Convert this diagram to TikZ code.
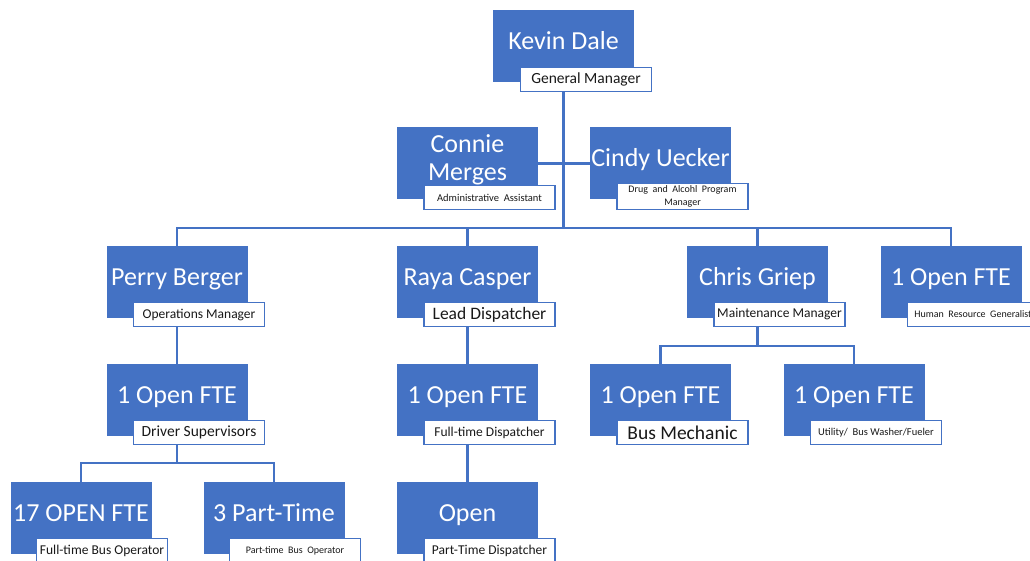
\documentclass[tikz,border=0pt]{standalone}
\usepackage{fontspec}
\setmainfont{Carlito}
\usepackage{tikz}
\definecolor{orgblue}{HTML}{4472C4}
\newcommand{\tsize}[1]{\fontsize{#1}{#1}\selectfont}

\begin{document}
\begin{tikzpicture}
                \tikzset{x=1pt, y=-1pt}
                \tikzstyle{person}=[rectangle, fill=orgblue, text=white, minimum width=141pt, minimum height=72pt, inner sep=0pt, font=\tsize{26}]
                \tikzstyle{one}=[person, text height=18pt, text depth=11pt]
                \tikzstyle{role}=[rectangle, draw=orgblue, line width=1.4pt, fill=white, text=black!90, minimum width=131pt, minimum height=24pt, inner xsep=2pt, inner ysep=1pt]
                \tikzstyle{link}=[draw=orgblue, line width=2.2pt]

                \useasboundingbox (0, 0) rectangle (1030, 561);

                \draw (563.5, 46.0)  node[one]    (kd)   {Kevin Dale};
                \draw (586.0, 79.5)  node[role, font=\tsize{15.5}] (kdt) {General Manager};

                \draw (467.5, 163.5) node[person, align=center, font=\fontsize{26}{28}\selectfont] (cm) {Connie\\Merges\rule[-12.5pt]{0pt}{12.5pt}};
                \draw (489.5, 197.5) node[role, font=\tsize{10.5}] (cmt) {Administrative~~Assistant};
                \draw (660.5, 163.5) node[one]    (cu)   {Cindy Uecker};
                \draw (682.5, 196.5) node[role, align=center, inner ysep=2.5pt, font=\fontsize{10}{12.5}\selectfont] (cut) {Drug~~and~~Alcohl~~Program\\Manager};

                \draw (177.0, 282.0) node[one]    (pb)   {Perry Berger};
                \draw (199.0, 314.5) node[role, font=\tsize{13.5}] (pbt) {Operations Manager};
                \draw (467.5, 282.0) node[one]    (rc)   {Raya Casper};
                \draw (489.5, 314.5) node[role, font=\tsize{17.5}] (rct) {Lead Dispatcher};
                \draw (757.5, 282.0) node[one]    (cg)   {Chris Griep};
                \draw (779.5, 314.5) node[role, font=\tsize{13.5}] (cgt) {Maintenance Manager};
                \draw (951.0, 282.0) node[one]    (hr)   {1 Open FTE};
                \draw (973.0, 314.5) node[role, font=\tsize{10}]   (hrt) {Human~~Resource~~Generalist};

                \draw (177.0, 400.0) node[one]    (ds)   {1 Open FTE};
                \draw (199.0, 432.5) node[role, font=\tsize{15.5}] (dst) {Driver Supervisors};
                \draw (467.5, 400.0) node[one]    (fd)   {1 Open FTE};
                \draw (489.5, 432.5) node[role, font=\tsize{13.5}] (fdt) {Full-time Dispatcher};
                \draw (660.5, 400.0) node[one]    (bm)   {1 Open FTE};
                \draw (682.5, 432.5) node[role, font=\tsize{19.5}] (bmt) {Bus Mechanic};
                \draw (854.0, 400.0) node[one]    (uw)   {1 Open FTE};
                \draw (876.0, 432.5) node[role, font=\tsize{10.5}] (uwt) {Utility/~~Bus Washer/Fueler};

                \draw (81.0, 518.0)  node[one]    (fto)  {17 OPEN FTE};
                \draw (102.0, 550.5) node[role, font=\tsize{13.5}] (ftot) {Full-time Bus Operator};
                \draw (274.0, 518.0) node[one]    (pto)  {3 Part-Time};
                \draw (295.0, 550.5) node[role, font=\tsize{10}]   (ptot) {Part-time~~Bus~~Operator};
                \draw (467.5, 518.0) node[one]    (op)   {Open};
                \draw (489.5, 550.5) node[role, font=\tsize{13.5}] (opt) {Part-Time Dispatcher};

                \coordinate (bus)   at (0, 228);
                \coordinate (cgbus) at (0, 346);
                \coordinate (dsbus) at (0, 463);

                \draw [link]        (kd |- kdt.south) -- (kd |- bus);
                \draw [link]        (cm.east) -- (cu.west);
                \draw [link]        (pb.north) |- (hr.north |- bus) -- (hr.north);
                \draw [link]        (rc.north) -- (rc.north |- bus);
                \draw [link]        (cg.north) -- (cg.north |- bus);

                \draw [link]        (pb |- pbt.south) -- (ds.north);
                \draw [link]        (ds |- dst.south) -- (ds |- dsbus);
                \draw [link]        (fto.north) |- (pto.north |- dsbus) -- (pto.north);

                \draw [link]        (rc |- rct.south) -- (fd.north);
                \draw [link]        (fd |- fdt.south) -- (op.north);

                \draw [link]        (cg |- cgt.south) -- (cg |- cgbus);
                \draw [link]        (bm.north) |- (uw.north |- cgbus) -- (uw.north);
\end{tikzpicture}
\end{document}
